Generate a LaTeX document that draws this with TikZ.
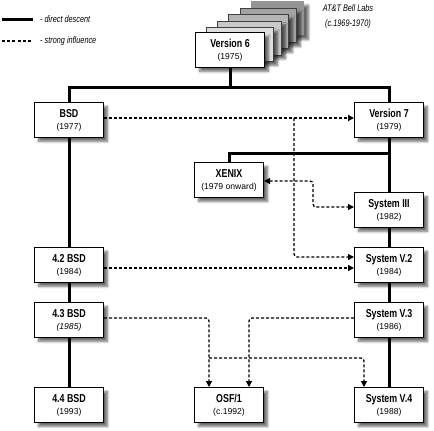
\documentclass[tikz,border=0pt]{standalone}
\usepackage{fontspec}
\setmainfont{Liberation Sans}
\newfontfamily\condfont[FakeStretch=0.77]{Liberation Sans}
\usetikzlibrary{arrows.meta,shadows.blur}
\newcommand\ttlf{\condfont\bfseries\upshape\fontsize{11.5}{11.5}\selectfont}
\newcommand\yrf{\rmfamily\mdseries\upshape\fontsize{8.6}{10.6}\selectfont}
\newcommand\yrif{\rmfamily\mdseries\itshape\fontsize{8.6}{10.6}\selectfont}
\newcommand\lgf{\condfont\itshape\fontsize{9.5}{10}\selectfont}
\begin{document}
\begin{tikzpicture}[x=1pt,y=-1pt,
  shad/.style={blur shadow={shadow xshift=4pt,shadow yshift=-4pt,shadow blur steps=6,shadow blur radius=2.5pt,shadow opacity=60}},
  box/.style={draw=black,line width=1.4pt,fill=white,minimum width=68.6pt,minimum height=34.6pt,inner sep=0pt,align=center,shad},
  sheet/.style={draw=black!75,line width=0.8pt,minimum height=34pt,inner sep=0pt,shad},
  desc/.style={line width=3pt,line join=miter},
  infl/.style={line width=1.3pt,dash pattern=on 3pt off 2pt,rounded corners=3pt,-{Triangle[length=6pt,width=6pt]}},
  lab/.style={inner sep=0pt}]
\useasboundingbox (0,0) rectangle (434,431);
% legend
\coordinate (la) at (2,19); \coordinate (lb) at (33,19);
\coordinate (lc) at (2,41); \coordinate (ld) at (33,41);
\draw[line width=3pt] (la) -- (lb);
\draw[line width=1.3pt,dash pattern=on 3pt off 2.2pt] (lc) -- (ld);
\node[lab,anchor=west] (l1) at (40,19) {\lgf - direct descent};
\node[lab,anchor=west] (l2) at (40,41) {\lgf - strong influence};
% AT&T label
\node[lab] (att1) at (348,8) {\lgf AT\&T Bell Labs};
\node[lab] (att2) at (348,24) {\lgf (c.1969-1970)};
% stacked sheets
\node[sheet,draw=none,fill=black!42,anchor=north west,minimum width=53pt] (s5) at (251,1) {};
\node[sheet,fill=black!36,anchor=north west,minimum width=56pt] (s4) at (240,8) {};
\node[sheet,fill=black!29,anchor=north west,minimum width=60pt] (s3s) at (228,14) {};
\node[sheet,fill=black!21,anchor=north west,minimum width=64pt] (s2) at (217,20.5) {};
\node[sheet,fill=black!13,anchor=north west,minimum width=67pt] (s1) at (206,27) {};
% boxes
\node[box] (v6) at (230,50) {\ttlf Version 6\\\yrf (1975)};
\node[box] (bsd) at (69,120) {\ttlf BSD\\\yrf (1977)};
\node[box] (v7) at (389,120) {\ttlf Version 7\\\yrf (1979)};
\node[box] (xenix) at (229,180) {\ttlf XENIX\\\yrf (1979 onward)};
\node[box] (s3) at (389,210) {\ttlf System III\\\yrf (1982)};
\node[box] (bsd42) at (69,265) {\ttlf 4.2 BSD\\\yrf (1984)};
\node[box] (sv2) at (389,265) {\ttlf System V.2\\\yrf (1984)};
\node[box] (bsd43) at (69,320) {\ttlf 4.3 BSD\\\yrif (1985)};
\node[box] (sv3) at (389,320) {\ttlf System V.3\\\yrf (1986)};
\node[box] (bsd44) at (69,405) {\ttlf 4.4 BSD\\\yrf (1993)};
\node[box] (osf) at (229,405) {\ttlf OSF/1\\\yrf (c.1992)};
\node[box] (sv4) at (389,405) {\ttlf System V.4\\\yrf (1988)};
% direct descent
\coordinate (j1) at (230,87);
\coordinate (j2) at (389,153);
\draw[desc] (v6.south) -- (j1);
\draw[desc] (bsd.north) |- (j1) -| (v7.north);
\draw[desc] (xenix.north) |- (j2);
\draw[desc] (v7.south) -- (s3.north);
\draw[desc] (s3.south) -- (sv2.north);
\draw[desc] (sv2.south) -- (sv3.north);
\draw[desc] (sv3.south) -- (sv4.north);
\draw[desc] (bsd.south) -- (bsd42.north);
\draw[desc] (bsd42.south) -- (bsd43.north);
\draw[desc] (bsd43.south) -- (bsd44.north);
% strong influence
\coordinate (d1) at (294,118);
\coordinate (k1) at (313,181);
\coordinate (k2) at (209,358);
\draw[infl] ([yshift=2pt]bsd.east) -- ([yshift=2pt]v7.west);
\draw[infl] (d1) |- ([yshift=8pt]sv2.west);
\draw[infl] ([yshift=-3pt]bsd42.east) -- ([yshift=-3pt]sv2.west);
\draw[infl,{Triangle[length=6pt,width=6pt]}-{Triangle[length=6pt,width=6pt]}] ([yshift=-1pt]xenix.east) -- (k1) |- ([yshift=3pt]s3.west);
\draw[infl] ([yshift=2pt]bsd43.east) -| ([xshift=-20pt]osf.north);
\draw[infl] (k2) -| ([xshift=-25pt]sv4.north);
\draw[infl] ([yshift=2pt]sv3.west) -| ([xshift=20pt]osf.north);
\end{tikzpicture}
\end{document}
